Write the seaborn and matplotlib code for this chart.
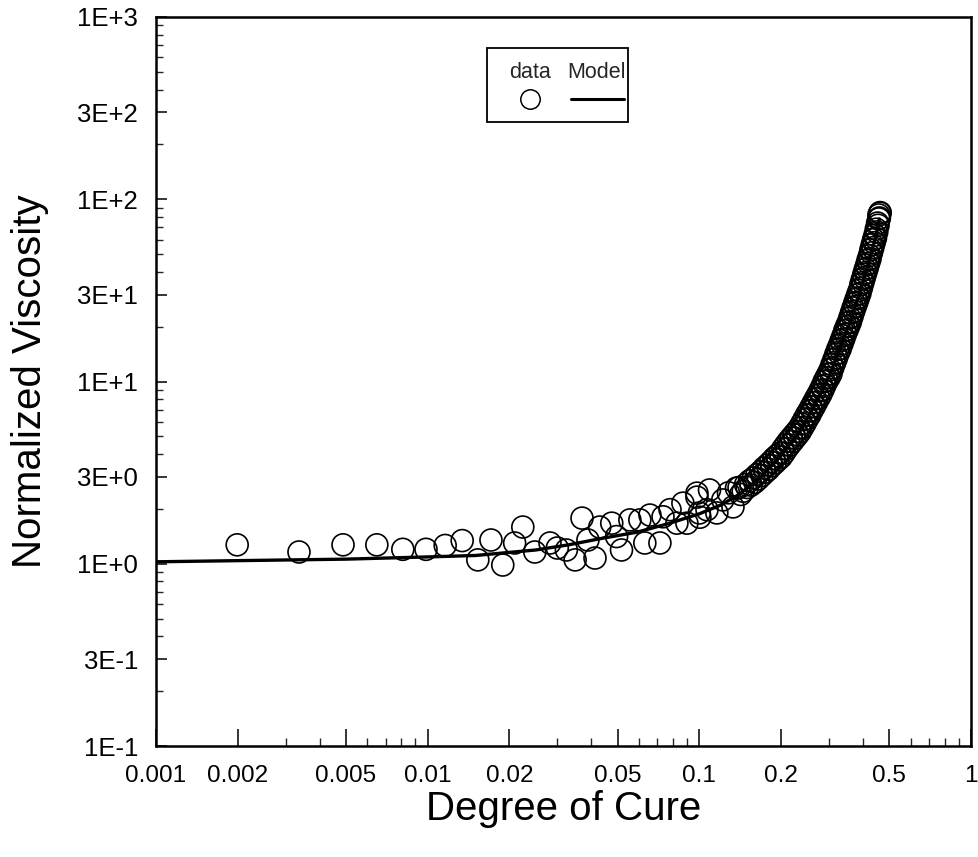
import numpy as np
import pandas as pd
import seaborn as sns
import matplotlib
matplotlib.use("Agg")
import matplotlib.pyplot as plt
from matplotlib.ticker import FixedLocator, NullFormatter, FixedFormatter, LogLocator
from matplotlib.patches import Rectangle
from matplotlib.lines import Line2D

# ---------------- data ----------------
# scattered low-cure measurements
low_x = [0.00199, 0.00336, 0.00488, 0.00650, 0.0081, 0.00986, 0.0116, 0.0134, 0.0153,
         0.0171, 0.0189, 0.0209, 0.0224, 0.0248, 0.0282, 0.0300, 0.0324, 0.0349, 0.0370,
         0.0389, 0.0413, 0.0430, 0.0476, 0.0496, 0.0517, 0.0555, 0.0604, 0.0630, 0.0658,
         0.0716, 0.0735, 0.0780, 0.0827, 0.0870, 0.0900, 0.0980, 0.1005, 0.1067, 0.0980,
         0.1090, 0.1220, 0.1330, 0.1000, 0.1160, 0.1280, 0.1370]
low_y = [1.27, 1.16, 1.27, 1.27, 1.20, 1.20, 1.26, 1.34, 1.05,
         1.35, 0.984, 1.30, 1.59, 1.16, 1.30, 1.22, 1.19, 1.05, 1.78,
         1.35, 1.075, 1.59, 1.67, 1.41, 1.19, 1.74, 1.74, 1.30, 1.85,
         1.30, 1.81, 1.98, 1.67, 2.15, 1.67, 2.32, 1.80, 1.98, 2.44,
         2.54, 2.24, 2.05, 1.90, 1.90, 2.45, 2.60]

# dense band of measurements at higher cure
band_x = [0.140, 0.142, 0.145, 0.148, 0.150, 0.153, 0.155, 0.158, 0.160, 0.163,
          0.165, 0.168, 0.170, 0.173, 0.175, 0.178, 0.180, 0.183, 0.185, 0.188,
          0.190, 0.193, 0.195, 0.198, 0.200, 0.203, 0.205, 0.208, 0.210, 0.213,
          0.215, 0.218, 0.220, 0.223, 0.225, 0.228, 0.230, 0.233, 0.235, 0.238,
          0.240, 0.243, 0.245, 0.248, 0.250, 0.253, 0.255, 0.258, 0.260, 0.263,
          0.265, 0.268, 0.270, 0.273, 0.275, 0.278, 0.280, 0.283, 0.285, 0.288,
          0.290, 0.293, 0.295, 0.298, 0.300, 0.303, 0.305, 0.308, 0.310, 0.313,
          0.315, 0.318, 0.320, 0.323, 0.325, 0.328, 0.330, 0.333, 0.335, 0.338,
          0.340, 0.343, 0.345, 0.348, 0.350, 0.353, 0.355, 0.358, 0.360, 0.363,
          0.365, 0.368, 0.370, 0.373, 0.375, 0.378, 0.380, 0.383, 0.385, 0.388,
          0.390, 0.393, 0.395, 0.398, 0.400, 0.403, 0.405, 0.408, 0.410, 0.413,
          0.415, 0.418, 0.420, 0.423, 0.425, 0.428, 0.430, 0.433, 0.435, 0.438,
          0.440, 0.443, 0.445, 0.448, 0.450, 0.453, 0.455, 0.458, 0.460, 0.462,
          0.458, 0.463]
band_y = [2.62, 2.40, 2.50, 2.72, 2.62, 2.85, 2.70, 2.95, 2.80, 3.08,
          2.92, 3.20, 3.05, 3.35, 3.18, 3.48, 3.30, 3.62, 3.45, 3.78,
          3.58, 3.92, 3.72, 4.05, 3.85, 4.28, 4.05, 4.50, 4.28, 4.72,
          4.48, 4.92, 4.68, 5.12, 4.88, 5.32, 5.08, 5.55, 5.30, 5.85,
          5.60, 6.20, 5.90, 6.55, 6.25, 6.88, 6.55, 7.25, 6.95, 7.65,
          7.30, 8.05, 7.70, 8.45, 8.10, 8.90, 8.50, 9.40, 9.00, 10.0,
          9.55, 10.5, 10.1, 11.0, 10.5, 11.6, 11.0, 12.4, 11.9, 13.2,
          12.7, 14.1, 13.5, 15.0, 14.4, 15.8, 15.1, 16.8, 16.1, 17.8,
          17.1, 19.0, 18.2, 20.0, 19.2, 21.0, 20.2, 22.3, 21.3, 23.8,
          22.8, 25.3, 24.3, 26.8, 25.8, 28.4, 27.2, 30.0, 28.8, 31.6,
          30.4, 34.0, 32.6, 36.3, 34.9, 38.7, 37.2, 41.2, 39.6, 43.6,
          42.0, 46.4, 44.6, 49.1, 47.2, 52.8, 50.8, 56.3, 54.2, 60.0,
          57.8, 63.5, 61.2, 68.5, 66.2, 74.0, 72.0, 78.0, 79.0, 84.0,
          82.0, 84.5]

# model curve
model_x = [0.001, 0.002, 0.005, 0.01, 0.015, 0.025, 0.033, 0.044, 0.059, 0.078,
           0.100, 0.120, 0.140, 0.167, 0.198, 0.235, 0.278, 0.303, 0.329, 0.358,
           0.390, 0.424, 0.447, 0.460]
model_y = [1.025, 1.04, 1.06, 1.09, 1.11, 1.19, 1.27, 1.38, 1.49, 1.67,
           1.88, 2.10, 2.40, 2.95, 3.85, 5.35, 8.40, 11.0, 15.2, 21.0,
           31.0, 47.0, 63.0, 78.0]

x_ticks = [0.001, 0.002, 0.005, 0.01, 0.02, 0.05, 0.1, 0.2, 0.5, 1]
x_tick_labels = ["0.001", "0.002", "0.005", "0.01", "0.02", "0.05", "0.1", "0.2", "0.5", "1"]
y_ticks = [0.1, 0.3, 1, 3, 10, 30, 100, 300, 1000]
y_tick_labels = ["1E-1", "3E-1", "1E+0", "3E+0", "1E+1", "3E+1", "1E+2", "3E+2", "1E+3"]

# ---------------- plotting ----------------
sns.set_theme(style="white")
plt.rcParams["font.family"] = ["Liberation Sans", "DejaVu Sans"]

fig = plt.figure(figsize=(9.79, 8.57), dpi=100)
ax = fig.add_axes([156 / 979, 1 - 746 / 857, (971 - 156) / 979, (746 - 17) / 857])

pts = pd.DataFrame({"x": low_x + band_x, "y": low_y + band_y})
mdl = pd.DataFrame({"x": model_x, "y": model_y})

sns.scatterplot(data=pts, x="x", y="y", ax=ax, marker="o", s=250,
                facecolors="none", edgecolor="black", linewidth=1.2, zorder=3)
sns.lineplot(data=mdl, x="x", y="y", ax=ax, color="black", linewidth=2.4,
             sort=False, estimator=None, zorder=4)

ax.set_xscale("log")
ax.set_yscale("log")
ax.set_xlim(0.001, 1)
ax.set_ylim(0.1, 1000)

ax.xaxis.set_major_locator(FixedLocator(x_ticks))
ax.xaxis.set_major_formatter(FixedFormatter(x_tick_labels))
ax.xaxis.set_minor_locator(LogLocator(base=10, subs=np.arange(2, 10)))
ax.xaxis.set_minor_formatter(NullFormatter())
ax.yaxis.set_major_locator(FixedLocator(y_ticks))
ax.yaxis.set_major_formatter(FixedFormatter(y_tick_labels))
ax.yaxis.set_minor_locator(LogLocator(base=10, subs=np.arange(2, 10)))
ax.yaxis.set_minor_formatter(NullFormatter())

ax.tick_params(axis="x", which="major", direction="in", length=12, width=1.1,
               labelsize=17.5, pad=14, bottom=True, colors="black")
ax.tick_params(axis="x", which="minor", direction="in", length=6, width=1.0, bottom=True)
ax.tick_params(axis="y", which="major", direction="in", length=8, width=1.1,
               labelsize=18.5, pad=13, left=True, colors="black")
ax.tick_params(axis="y", which="minor", direction="in", length=5, width=1.0, left=True)

for sp in ax.spines.values():
    sp.set_visible(True)
    sp.set_color("black")
    sp.set_linewidth(1.8)

ax.set_xlabel("Degree of Cure", fontsize=29, labelpad=2, color="black")
ax.set_ylabel("Normalized Viscosity", fontsize=29, labelpad=20, color="black")
ax.grid(False)

# custom legend box (labels above symbols)
x0, x1, y0, y1 = 0.406, 0.579, 0.856, 0.957
ax.add_patch(Rectangle((x0, y0), x1 - x0, y1 - y0, transform=ax.transAxes,
                       facecolor="white", edgecolor="black", linewidth=1.3, zorder=6))
ax.text(0.459, 0.924, "data", transform=ax.transAxes, ha="center", va="center",
        fontsize=15.5, zorder=7)
ax.text(0.541, 0.924, "Model", transform=ax.transAxes, ha="center", va="center",
        fontsize=15.5, zorder=7)
ax.add_line(Line2D([0.459], [0.887], transform=ax.transAxes, marker="o", markersize=14,
                   markerfacecolor="none", markeredgecolor="black", markeredgewidth=1.1,
                   linestyle="none", zorder=7))
ax.add_line(Line2D([0.509, 0.574], [0.888, 0.888], transform=ax.transAxes,
                   color="black", linewidth=2.2, zorder=7))

fig.savefig("out.png", dpi=100, facecolor="white")
